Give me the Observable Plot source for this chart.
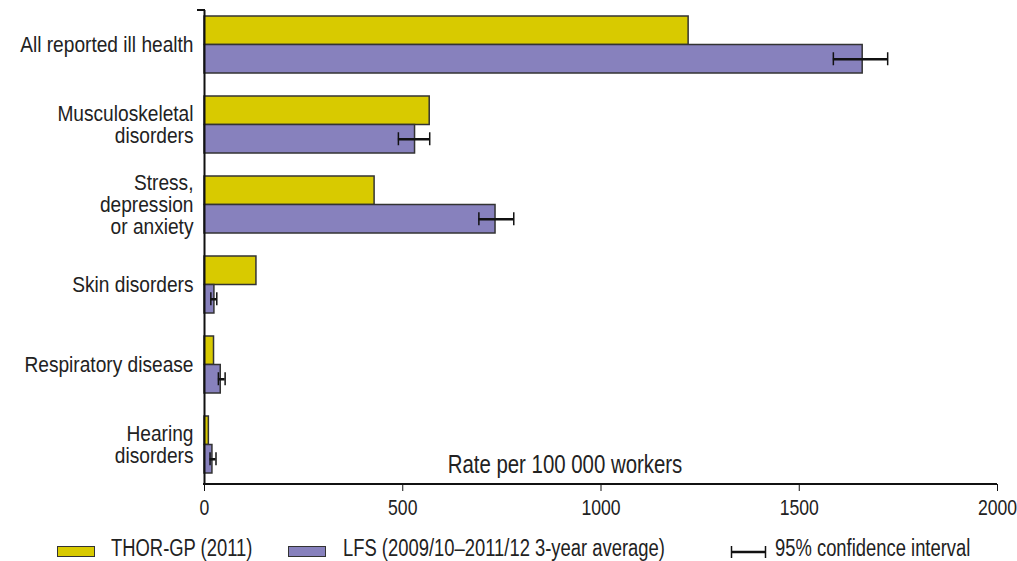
<!DOCTYPE html>
<html>
<head>
<meta charset="utf-8">
<script src="https://cdn.jsdelivr.net/npm/d3@7"></script>
<script src="https://cdn.jsdelivr.net/npm/@observablehq/plot@0.6"></script>
<style>
  html, body { margin: 0; padding: 0; background: #fff; }
  #wrap { position: relative; width: 1017px; height: 561px; font-family: "Liberation Sans", Arial, sans-serif; color: #222; overflow: hidden; }
  #chart svg { display: block; }
  #legend { position: absolute; left: 0; top: 535px; width: 1017px; height: 26px; font-size: 23px; }
  #legend .item { position: absolute; top: 0; height: 26px; white-space: nowrap; }
  #legend .sw { position: absolute; top: 11px; left: 0; width: 36px; height: 9px; border: 1.5px solid #333; }
  #legend .ci { position: absolute; top: 10px; left: 0; width: 38px; height: 14px; }
  #legend .ci svg { display: block; }
  #legend .txt { position: absolute; top: 0; line-height: 26px; display: inline-block; transform: scaleX(0.8); transform-origin: 0 50%; }
</style>
</head>
<body>
<div id="wrap">
  <div id="chart"></div>
  <div id="legend"></div>
</div>
<script>
// ---- data ----
const categories = ["All reported ill health", "Musculoskeletal disorders", "Stress, depression or anxiety", "Skin disorders", "Respiratory disease", "Hearing disorders"];
const categoryLabels = ["All reported ill health", "Musculoskeletal\ndisorders", "Stress,\ndepression\nor anxiety", "Skin disorders", "Respiratory disease", "Hearing\ndisorders"];
const thorGP = [1221, 568, 429, 131, 24, 11];
const lfs = [1660, 531, 734, 25, 41, 20];
const lfsLow = [1586, 489, 692, 16, 35, 14];
const lfsHigh = [1723, 568, 780, 31, 52, 29];
const xTicks = [0, 500, 1000, 1500, 2000];
const seriesNames = ["THOR-GP (2011)", "LFS (2009/10\u20132011/12 3-year average)", "95% confidence interval"];
const xLabel = "Rate per 100 000 workers";
const colors = {thor: "#d8ca00", lfs: "#8781bd"};

const rows = categories.map((c, i) => ({category: c, label: categoryLabels[i], thor: thorGP[i], lfs: lfs[i], lo: lfsLow[i], hi: lfsHigh[i]}));

// ---- layout ----
const W = 1017, H = 526;
const mTop = 10, mBottom = 42, mLeft = 204, mRight = 20;
const step = 80, padIn = 0.2875;
const bw = step * (1 - padIn);          // band width (two bars)
const half = bw / 2;
const narrow = 0.8;                      // horizontal condensing of text
const labelSize = 22, labelNarrow = 0.87;
const font = '"Liberation Sans", Arial, sans-serif';

const chart = Plot.plot({
  width: W, height: H,
  marginTop: mTop, marginBottom: mBottom, marginLeft: mLeft, marginRight: mRight,
  style: {fontFamily: font, fontSize: "22px", color: "#222", background: "#fff", overflow: "visible"},
  x: {domain: [0, 2000], label: null},
  y: {type: "band", domain: categories, range: [mTop - 5.8, H - mBottom + 0.2], paddingInner: padIn, paddingOuter: padIn / 2, axis: null},
  marks: [
    Plot.barX(rows, {y: "category", x: "thor", fill: colors.thor, stroke: "#333", strokeWidth: 1.5, insetBottom: half}),
    Plot.barX(rows, {y: "category", x: "lfs", fill: colors.lfs, stroke: "#333", strokeWidth: 1.5, insetTop: half}),
    Plot.ruleY(rows, {y: "category", x1: "lo", x2: "hi", dy: half / 2, stroke: "#111", strokeWidth: 2.5}),
    Plot.tickX(rows, {y: "category", x: "lo", insetTop: half + half / 2 - 6.5, insetBottom: half / 2 - 6.5, stroke: "#111", strokeWidth: 1.5}),
    Plot.tickX(rows, {y: "category", x: "hi", insetTop: half + half / 2 - 6.5, insetBottom: half / 2 - 6.5, stroke: "#111", strokeWidth: 1.5}),
    Plot.text(rows, {y: "category", text: "label", frameAnchor: "left", textAnchor: "end", dx: -11, lineHeight: 0.99, fontSize: labelSize, fill: "#222", className: "catlabel"}),
    Plot.text([xLabel], {text: d => d, frameAnchor: "bottom", lineAnchor: "bottom", dx: -36, dy: -12, fontSize: 25.5, fill: "#222"}),
    Plot.ruleX([0], {stroke: "#111", strokeWidth: 2}),
    Plot.axisX({ticks: xTicks, tickSize: 7, tickPadding: 8, stroke: "#111", fill: "#222", tickFormat: d => String(d), fontSize: 22}),
    (index, scales, values, dims) => {
      const g = document.createElementNS("http://www.w3.org/2000/svg", "g");
      const mk = (x1, y1, x2, y2, w) => {
        const l = document.createElementNS("http://www.w3.org/2000/svg", "line");
        l.setAttribute("x1", x1); l.setAttribute("y1", y1); l.setAttribute("x2", x2); l.setAttribute("y2", y2);
        l.setAttribute("stroke", "#111"); l.setAttribute("stroke-width", w);
        g.appendChild(l);
      };
      const x0 = scales.x(0), x1 = scales.x(2000);
      const yb = dims.height - dims.marginBottom;
      mk(x0 - 1, yb, x1, yb, 2);                               // x axis baseline
      mk(x0 - 7, dims.marginTop, x0 + 1, dims.marginTop, 2);   // top hook of y axis
      return g;
    }
  ]
});

// condense every text horizontally around its own anchor (narrow typeface look)
chart.querySelectorAll("text").forEach(t => {
  const k = t.closest(".catlabel") ? labelNarrow : narrow;
  const tr = t.getAttribute("transform");
  if (tr) {
    t.setAttribute("transform", tr + ` scale(${k},1)`);
  } else {
    const x = +t.getAttribute("x") || 0, y = +t.getAttribute("y") || 0;
    t.setAttribute("transform", `translate(${x},${y}) scale(${k},1) translate(${-x},${-y})`);
  }
});
document.getElementById("chart").appendChild(chart);

// ---- legend ----
const legend = document.getElementById("legend");
const items = [
  {left: 57, textLeft: 111, type: "sw", color: colors.thor, text: seriesNames[0]},
  {left: 288, textLeft: 343, type: "sw", color: colors.lfs, text: seriesNames[1]},
  {left: 730, textLeft: 775, type: "ci", text: seriesNames[2]}
];
for (const it of items) {
  const d = document.createElement("div");
  d.className = "item";
  d.style.left = it.left + "px";
  d.style.width = "300px";
  const s = document.createElement("div");
  if (it.type === "sw") {
    s.className = "sw";
    s.style.background = it.color;
  } else {
    s.className = "ci";
    s.innerHTML = '<svg width="38" height="14" viewBox="0 0 38 14"><line x1="1" y1="7" x2="36" y2="7" stroke="#111" stroke-width="2.5"/><line x1="1.5" y1="1" x2="1.5" y2="13" stroke="#111" stroke-width="1.5"/><line x1="35.5" y1="1" x2="35.5" y2="13" stroke="#111" stroke-width="1.5"/></svg>';
  }
  const t = document.createElement("span");
  t.className = "txt";
  t.style.left = (it.textLeft - it.left) + "px";
  t.textContent = it.text;
  d.appendChild(s); d.appendChild(t);
  legend.appendChild(d);
}
</script>
</body>
</html>
